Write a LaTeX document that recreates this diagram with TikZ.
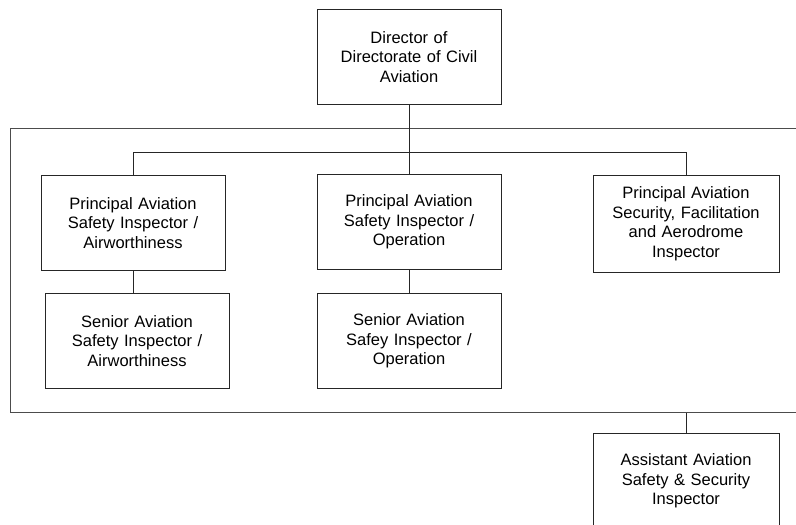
\documentclass[tikz,border=0pt]{standalone}
\usepackage{fontspec}
\setmainfont{Liberation Sans}
\begin{document}
\begin{tikzpicture}[x=1pt,y=-1pt,
  role/.style={draw=black!85, line width=0.9pt, minimum width=184pt,
    minimum height=95pt, inner sep=0pt, text width=180pt, align=center,
    font=\fontsize{16.5}{19.5}\selectfont},
  link/.style={draw=black!85, line width=0.9pt},
  unitframe/.style={draw=black!70, line width=1.3pt, inner sep=0pt,
    minimum width=830pt, minimum height=284pt, anchor=north west}]
\path[use as bounding box, clip] (0,0) rectangle (796,525);

% department frame, open to the right
\node[unitframe] (frame) at (10,128) {};

% positions
\node[role] (dir)  at (409,57)    {Director of\\Directorate of Civil\\Aviation};
\node[role] (pa)   at (133,223)   {Principal Aviation\\Safety Inspector /\\Airworthiness};
\node[role] (po)   at (409,222)   {Principal Aviation\\Safety Inspector /\\Operation};
\node[role, minimum width=186pt, minimum height=97pt] (ps) at (686,223.5)
  {Principal Aviation\\Security, Facilitation\\and Aerodrome\\Inspector};
\node[role] (sa)   at (137,341)   {Senior Aviation\\Safety Inspector /\\Airworthiness};
\node[role] (so)   at (409,341)   {Senior Aviation\\Safey Inspector /\\Operation};
\node[role, minimum width=186pt, minimum height=96pt] (asst) at (686,481)
  {Assistant Aviation\\Safety \& Security\\Inspector};

% reporting lines
\draw[link] (dir.south) -- (po.north);
\draw[link] (pa.north) -- ++(0,-23) -| (ps.north);
\draw[link] (pa.south) -- (pa.south |- sa.north);
\draw[link] (po.south) -- (so.north);
\draw[link] (frame.south -| asst.north) -- (asst.north);
\end{tikzpicture}
\end{document}
